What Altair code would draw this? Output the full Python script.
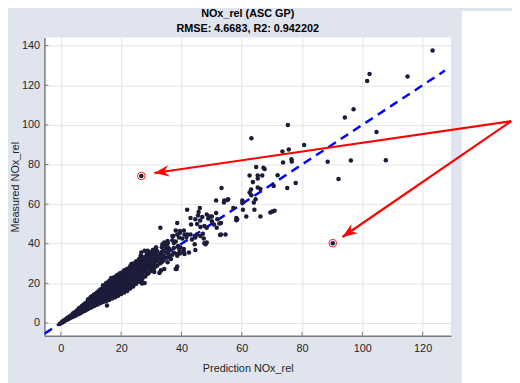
import math
import altair as alt
import pandas as pd

FONT = "Liberation Sans"

# ---------------- data ----------------
core_pred = [-0.4, 0, 0.5, 1, 1.5, 2, 2.5, 3, 3.5, 4, 4.5, 5, 5.5, 6, 6.5, 7, 7.5, 8, 8.5,
             9, 9.5, 10, 10.5, 11, 11.5, 12, 12.5, 13, 13.5, 14, 14.5, 15, 15.5, 16, 16.5,
             17, 17.5, 18, 18.5, 19, 19.5, 20, 21, 22, 23, 24, 25, 26, 27, 28, 29, 30,
             31, 32, 33, 34, 35, 36]
core_meas = [
    [-0.5], [0.0], [0.3, 0.8], [0.8, 1.3], [1.2, 1.8], [1.6, 2.4], [2.0, 2.9], [2.4, 3.4],
    [2.9, 3.9], [3.0, 4.0, 4.8], [3.6, 4.5, 5.3], [3.8, 4.8, 5.8], [4.4, 5.4, 6.4],
    [4.5, 5.5, 6.5, 7.4], [5.0, 6.0, 7.0, 7.8], [5.4, 6.5, 7.6, 8.6], [5.9, 7.0, 8.1, 9.2],
    [6.2, 7.4, 8.6, 9.8], [6.7, 7.9, 9.1, 10.3], [7.0, 8.3, 9.6, 10.8, 11.8],
    [7.5, 8.8, 10.1, 11.4, 12.4], [7.8, 9.2, 10.6, 12.0, 13.2], [8.3, 9.7, 11.1, 12.5, 13.6],
    [8.6, 10.0, 11.5, 13.0, 14.4], [9.1, 10.6, 12.1, 13.6, 14.8], [9.2, 10.7, 12.3, 13.9, 15.4],
    [9.8, 11.3, 12.9, 14.5, 16.0], [10.0, 11.6, 13.3, 15.0, 16.8], [10.5, 12.2, 13.9, 15.6, 17.3],
    [10.6, 12.4, 14.2, 16.0, 17.8, 19.0], [11.2, 13.0, 14.8, 16.6, 18.4],
    [11.0, 12.8, 14.6, 16.5, 18.4, 20.0], [11.8, 13.6, 15.4, 17.2, 19.0, 20.4],
    [11.6, 13.5, 15.5, 17.5, 19.5, 21.0], [12.4, 14.4, 16.4, 18.4, 20.4, 22.0],
    [12.4, 14.4, 16.4, 18.4, 20.4, 22.2], [13.0, 15.0, 17.1, 19.2, 21.3, 23.0],
    [13.0, 15.0, 17.2, 19.4, 21.6, 23.2], [13.8, 16.0, 18.2, 20.4, 22.6, 24.0],
    [13.8, 16.0, 18.2, 20.4, 22.6, 24.4], [14.6, 16.8, 19.0, 21.2, 23.4, 25.0],
    [14.6, 17.0, 19.2, 21.4, 23.6, 25.4], [15.4, 17.8, 20.0, 22.2, 24.4, 26.6],
    [16.2, 18.6, 21.0, 23.2, 25.4, 27.4], [17.4, 19.8, 22.2, 24.4, 26.6, 28.6],
    [18.4, 21.0, 23.4, 25.8, 28.0, 30.0], [19.8, 22.4, 24.8, 27.2, 29.4, 31.2],
    [21.0, 23.6, 26.0, 28.4, 30.6, 32.4], [22.2, 24.8, 27.2, 29.6, 31.8],
    [23.4, 26.0, 28.4, 30.8, 33.0], [25.0, 27.6, 30.0, 32.4, 34.4], [26.4, 29.0, 31.4, 33.6],
    [27.8, 30.2, 32.6, 35.0], [29.0, 31.4, 33.8, 36.2], [30.2, 32.6, 35.0], [31.6, 34.0, 36.4],
    [33.0, 35.4, 37.6], [34.0, 36.6],
]

# staggered columns that fill the dense band between the ones above
fill_pred = [4.2, 5.2, 6.2, 7.2, 8.2, 9.2, 10.2, 11.2, 12.2, 13.2, 14.2, 15.2, 16.2, 17.2,
             18.2, 19.2, 20.5, 21.5, 22.5, 23.5, 24.5, 25.5, 26.5, 27.5, 28.5, 29.5, 30.5,
             31.5, 33.5, 35.5, 37.5]
fill_meas = [
    [3.5, 4.4], [4.3, 5.3], [5.0, 6.0, 7.0], [6.0, 7.1, 8.1], [6.8, 8.0, 9.2],
    [7.7, 9.0, 10.2, 11.3], [8.5, 9.9, 11.3, 12.6], [9.3, 10.8, 12.3, 13.7],
    [10.0, 11.5, 13.1, 14.6], [10.8, 12.5, 14.2, 15.9], [11.5, 13.3, 15.1, 16.9, 18.4],
    [12.0, 13.8, 15.6, 17.5, 19.3], [12.6, 14.6, 16.6, 18.6, 20.4],
    [13.4, 15.4, 17.4, 19.4, 21.4], [14.0, 16.1, 18.3, 20.5, 22.6],
    [14.9, 17.1, 19.3, 21.5, 23.5], [15.8, 18.2, 20.4, 22.6, 24.8],
    [16.6, 19.0, 21.2, 23.4, 25.6], [17.4, 19.8, 22.2, 24.4, 26.6],
    [18.6, 21.0, 23.4, 25.6, 27.8], [19.8, 22.2, 24.6, 27.0, 29.2],
    [21.0, 23.6, 26.0, 28.4, 30.6], [22.4, 25.0, 27.4, 29.8, 32.0],
    [23.6, 26.2, 28.6, 31.0, 33.2], [24.8, 27.4, 29.8, 32.2, 34.6],
    [26.0, 28.6, 31.0, 33.4, 35.6], [27.2, 29.8, 32.2, 34.6, 36.8],
    [28.6, 31.0, 33.4, 35.8, 38.0], [30.8, 33.4, 35.8, 38.2], [33.0, 35.6, 38.2, 40.4],
    [35.4, 38.0, 40.4],
]

mid_pred = [21.8, 22.3, 23.4, 25.6, 26.9, 27.8, 24.5, 25.6, 26.7, 27.8, 28.8, 30.0, 31.0, 32.7,
            33.2, 34.3, 26.5, 26.7, 27.8, 28.8, 30.0, 31.0, 32.1, 33.2, 34.3, 35.4, 36.5,
            34.3, 34.8, 35.4, 36.0, 37.0, 37.0, 38.1, 38.6, 38.9, 39.5, 39.7, 40.8, 41.0,
            42.5, 44.6, 44.4, 48.0, 48.4, 47.6, 37.3, 38.6, 39.2, 40.3, 41.0, 41.9, 43.0,
            43.5, 44.6, 45.2, 46.3, 47.1, 47.4, 41.7, 38.1, 39.5, 40.8, 38.6, 33.0, 43.0,
            44.6, 45.5, 46.2, 46.9, 48.4, 48.9, 50.1, 43.2, 45.2, 46.3, 47.6, 48.4, 50.1,
            50.8, 51.7, 51.9, 53.1, 54.6, 53.1, 41.9, 46.1, 45.7, 51.5, 54.2, 53.3, 51.5,
            49.5, 52.6, 52.8, 39.0, 39.4, 40.8, 38.6, 38.4, 38.6, 16.7, 15.3, 23.4, 26.1,
            28.8, 31.6, 33.7, 37.0, 39.5, 27.2, 26.7, 33.2, 38.1]
mid_meas = [18.2, 20.7, 23.2, 21.5, 19.9, 20.2, 28.2, 29.0, 29.0, 30.2, 29.8, 28.2, 25.7, 25.2,
            26.5, 27.3, 33.9, 35.6, 36.4, 36.4, 35.6, 34.8, 33.9, 30.7, 32.3, 30.7, 32.3,
            40.6, 38.9, 41.4, 37.3, 34.4, 41.7, 41.1, 33.9, 38.9, 35.1, 38.1, 37.3, 34.8,
            35.6, 36.8, 39.8, 39.8, 40.6, 40.3, 43.9, 44.7, 43.1, 42.7, 44.7, 44.7, 44.7,
            42.2, 43.1, 44.7, 43.9, 45.1, 42.7, 43.4, 46.7, 46.4, 46.7, 50.5, 48.1, 53.0,
            52.3, 54.2, 51.7, 53.5, 54.7, 52.8, 53.8, 49.7, 50.0, 48.4, 48.9, 48.1, 51.3,
            49.7, 48.1, 52.3, 44.7, 44.7, 50.5, 57.2, 58.0, 56.0, 61.8, 61.8, 68.1, 55.5,
            53.8, 50.2, 44.4, 38.1, 36.4, 35.9, 34.8, 27.3, 28.5, 22.7, 8.8, 29.8, 32.3,
            35.6, 38.1, 39.8, 43.9, 45.6, 26.5, 20.7, 26.5, 27.3]

sparse_pred = [123.3, 115.0, 102.4, 101.6, 97.1, 94.2, 75.3, 104.7, 80.7, 63.2, 75.6, 73.5,
               76.5, 76.6, 73.7, 88.5, 96.2, 107.8, 92.1, 71.9, 66.8, 65.3, 67.2, 64.8, 67.6,
               65.3, 65.3, 70.6, 75.1, 77.9, 62.6, 63.7, 62.6, 63.2, 55.5, 63.1, 66.2, 64.6,
               64.0, 60.2, 60.2, 64.2, 61.5, 60.4, 58.2, 58.2, 66.2, 70.2, 70.9, 57.2, 69.5,
               58.5, 55.2, 54.1]
sparse_meas = [137.5, 124.4, 125.7, 122.1, 107.9, 103.7, 99.9, 96.4, 89.8, 93.3, 87.6, 86.5,
               82.7, 81.5, 81.0, 81.4, 82.0, 82.2, 72.7, 74.6, 74.4, 74.4, 78.3, 78.7, 77.7,
               72.9, 68.4, 69.1, 68.1, 70.7, 74.4, 71.1, 65.8, 64.5, 62.5, 67.4, 67.6, 62.5,
               60.8, 61.8, 60.5, 57.2, 53.8, 57.2, 53.0, 51.8, 53.8, 56.3, 56.7, 58.0, 55.8,
               52.2, 62.1, 60.8]

marked_pred = [26.7, 90.2]
marked_meas = [74.2, 40.3]

ideal_pred = [-5.4, 127.4]
ideal_meas = [-5.4, 127.4]

arrow_from_pred = 149.4
arrow_from_meas = 101.9
arrow_to_pred = [31.0, 93.4]
arrow_to_meas = [75.7, 43.4]

x_ticks = [0, 20, 40, 60, 80, 100, 120]
y_ticks = [0, 20, 40, 60, 80, 100, 120, 140]
x_domain = [-5.45, 129.4]
y_domain = [-6.46, 144.1]

title_lines = ["NOx_rel (ASC GP)", "RMSE: 4.6683, R2: 0.942202"]
x_title = "Prediction NOx_rel"
y_title = "Measured NOx_rel"

# ---------------- tables ----------------
W, H = 413, 303
rows = []
for cols, vals in ((core_pred, core_meas), (fill_pred, fill_meas)):
    for xv, ys_ in zip(cols, vals):
        for yv in ys_:
            rows.append({"pred": xv, "meas": yv})
for px_, py_ in ((mid_pred, mid_meas), (sparse_pred, sparse_meas), (marked_pred, marked_meas)):
    for xv, yv in zip(px_, py_):
        rows.append({"pred": xv, "meas": yv})
pts = pd.DataFrame(rows)

ideal = pd.DataFrame({"pred": ideal_pred, "meas": ideal_meas})
marked = pd.DataFrame({"pred": marked_pred, "meas": marked_meas})

sx = W / (x_domain[1] - x_domain[0])
sy = H / (y_domain[1] - y_domain[0])
angles = []
for tx, ty in zip(arrow_to_pred, arrow_to_meas):
    dx = (tx - arrow_from_pred) * sx
    dy = -(ty - arrow_from_meas) * sy
    angles.append(math.degrees(math.atan2(dx, -dy)) % 360)
arrows = pd.DataFrame({"pred": [arrow_from_pred] * len(arrow_to_pred),
                       "meas": [arrow_from_meas] * len(arrow_to_pred),
                       "pred2": arrow_to_pred, "meas2": arrow_to_meas})
heads_df = pd.DataFrame({"pred": arrow_to_pred, "meas": arrow_to_meas, "ang": angles})

xt = pd.DataFrame({"pred": x_ticks})
yt = pd.DataFrame({"meas": y_ticks})
titles = pd.DataFrame({"t": title_lines})

xs = alt.Scale(domain=x_domain, nice=False, zero=False)
ys = alt.Scale(domain=y_domain, nice=False, zero=False)

AX = "#7a7a7a"
TXT = "#262626"

xaxis = alt.Axis(values=x_ticks, grid=True, ticks=False, format="d",
                 labelPadding=7, titlePadding=9, title=x_title)
yaxis = alt.Axis(values=y_ticks, grid=True, ticks=False, format="d",
                 labelPadding=5, titlePadding=1, title=y_title)


def X():
    return alt.X("pred:Q", scale=xs, axis=xaxis)


def Y():
    return alt.Y("meas:Q", scale=ys, axis=yaxis)


white = alt.Chart(pd.DataFrame({"k": [0]})).mark_rect(color="white", clip=False).encode(
    x=alt.value(424), x2=alt.value(480), y=alt.value(-27), y2=alt.value(360))

line = alt.Chart(ideal).mark_line(color="#0000ff", strokeWidth=2.5, strokeDash=[9, 6],
                                  clip=True).encode(x=X(), y=Y())

scatter = alt.Chart(pts).mark_circle(size=21, color="#1c1c3a", opacity=1, clip=True).encode(
    x=X(), y=Y())

xtick = alt.Chart(xt).mark_rule(color=AX, strokeWidth=1).encode(
    x=X(), y=alt.value(H), y2=alt.value(H - 4))
ytick = alt.Chart(yt).mark_rule(color=AX, strokeWidth=1).encode(
    y=Y(), x=alt.value(0), x2=alt.value(4))

rings = alt.Chart(marked).mark_point(shape="circle", size=60, filled=False, color="#ff2020",
                                     strokeWidth=1, opacity=1).encode(x=X(), y=Y())

shafts = alt.Chart(arrows).mark_rule(color="#ff0000", strokeWidth=2.2, clip=False).encode(
    x=X(), y=Y(), x2="pred2:Q", y2="meas2:Q")

heads = alt.Chart(heads_df).mark_point(
    shape="M0,0 L0.38,1 L0,0.68 L-0.38,1 Z", size=900, filled=True, color="#ff0000",
    opacity=1, strokeWidth=0, clip=False).encode(
    x=X(), y=Y(), angle=alt.Angle("ang:Q", scale=None))

title1 = alt.Chart(titles.iloc[[0]]).mark_text(
    font=FONT, fontSize=11, fontWeight="bold", color="black", align="center",
    baseline="alphabetic").encode(text="t:N", x=alt.value(W / 2), y=alt.value(-20.5))
title2 = alt.Chart(titles.iloc[[1]]).mark_text(
    font=FONT, fontSize=11, fontWeight="bold", color="black", align="center",
    baseline="alphabetic").encode(text="t:N", x=alt.value(W / 2), y=alt.value(-5.5))

chart = alt.layer(white, line, scatter, xtick, ytick, rings, shafts, heads,
                  title1, title2).properties(
    width=W, height=H,
    autosize=alt.AutoSizeParams(type="none"),
    padding={"left": 37, "top": 27, "right": 62, "bottom": 45},
    background="#dfe4ee",
).configure_view(fill="white", strokeWidth=0).configure_axis(
    domainColor=AX, domainWidth=1.5, gridColor="#e4e4e4", gridWidth=1,
    labelFont=FONT, labelFontSize=11, labelColor=TXT,
    titleFont=FONT, titleFontSize=11, titleColor=TXT, titleFontWeight="normal",
)

chart.save("out.html", embed_options={"renderer": "svg", "actions": False})
